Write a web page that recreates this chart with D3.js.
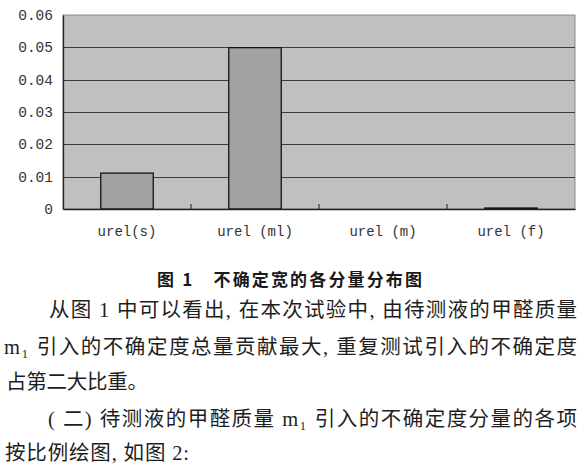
<!DOCTYPE html>
<html>
<head>
<meta charset="utf-8">
<script src="https://cdn.jsdelivr.net/npm/d3@7"></script>
<style>
  body { margin: 0; background: #fff; }
  svg { display: block; }
</style>
</head>
<body>
<script>
var width = 585,
    height = 470;

// chart data
var categories = ["urel(s)", "urel (ml)", "urel (m)", "urel (f)"];
var values = [0.0111, 0.0499, 0.0, 0.0003];
var yTicks = [0, 0.01, 0.02, 0.03, 0.04, 0.05, 0.06];
var tickLabels = ["0", "0.01", "0.02", "0.03", "0.04", "0.05", "0.06"];

// caption and body text under the chart
var caption = "图 1\u3000不确定宽的各分量分布图";
var bodyLines = [
  "从图 1 中可以看出, 在本次试验中, 由待测液的甲醛质量",
  "m\u2081 引入的不确定度总量贡献最大, 重复测试引入的不确定度",
  "占第二大比重。",
  "( 二)  待测液的甲醛质量 m\u2081 引入的不确定度分量的各项",
  "按比例绘图, 如图 2:"
];

var margin = {top: 15, right: 10, bottom: 261, left: 63};
var plotW = width - margin.left - margin.right,
    plotH = height - margin.top - margin.bottom;

var svg = d3.select("body").append("svg")
    .attr("width", width)
    .attr("height", height);

var g = svg.append("g")
    .attr("transform", "translate(" + margin.left + "," + margin.top + ")");

var x = d3.scaleBand()
    .domain(categories)
    .range([0, plotW])
    .padding(0);

var y = d3.scaleLinear()
    .domain([0, 0.06])
    .range([plotH, 0]);

var barW = x.bandwidth() * 0.41;

// plot background
g.append("rect")
    .attr("width", plotW)
    .attr("height", plotH)
    .style("fill", "#c0c0c0")
    .style("stroke", "#8a8a8a");

// gridlines
g.selectAll(".grid")
    .data(yTicks.filter(function(d) { return d > 0 && d < 0.06; }))
    .enter().append("line")
    .attr("class", "grid")
    .attr("x1", 0)
    .attr("x2", plotW)
    .attr("y1", function(d) { return Math.round(y(d)) + 0.5; })
    .attr("y2", function(d) { return Math.round(y(d)) + 0.5; })
    .style("stroke", "#3c3c3c")
    .style("stroke-width", 1);

// bars
g.selectAll(".bar")
    .data(values)
    .enter().append("rect")
    .attr("class", "bar")
    .attr("x", function(d, i) { return x(categories[i]) + (x.bandwidth() - barW) / 2; })
    .attr("y", function(d) { return y(d); })
    .attr("width", barW)
    .attr("height", function(d) { return plotH - y(d); })
    .style("fill", "#a2a2a2")
    .style("stroke", function(d) { return d > 0 ? "#111" : "none"; })
    .style("stroke-width", 1.3);

// y axis
var yAxis = g.append("g")
    .call(d3.axisLeft(y)
      .tickValues(yTicks)
      .tickSize(0)
      .tickPadding(10)
      .tickFormat(function(d, i) { return tickLabels[i]; }));
yAxis.select(".domain").style("stroke", "#222").style("stroke-width", 1.3);
yAxis.selectAll("text")
    .style("font-family", "'Liberation Mono', monospace")
    .style("font-size", "14.5px")
    .style("fill", "#333");

// x axis
var xAxis = g.append("g")
    .attr("transform", "translate(0," + plotH + ")")
    .call(d3.axisBottom(x).tickSize(0).tickPadding(17));
xAxis.select(".domain").style("stroke", "#222").style("stroke-width", 1.5);
xAxis.selectAll("text")
    .style("font-family", "'Liberation Mono', monospace")
    .style("font-size", "14px")
    .style("fill", "#333");

// category boundary ticks (pointing up into the plot)
g.selectAll(".ctick")
    .data(categories.slice(0, -1))
    .enter().append("line")
    .attr("class", "ctick")
    .attr("x1", function(d) { return x(d) + x.bandwidth(); })
    .attr("x2", function(d) { return x(d) + x.bandwidth(); })
    .attr("y1", plotH - 5)
    .attr("y2", plotH)
    .style("stroke", "#222");

// caption
svg.append("text")
    .attr("x", 157)
    .attr("y", 286)
    .attr("textLength", 265)
    .attr("lengthAdjust", "spacing")
    .style("font-family", "'Noto Sans CJK SC', sans-serif")
    .style("font-weight", "bold")
    .style("font-size", "17px")
    .style("fill", "#1a1a1a")
    .text(caption);

// body paragraph
var lineX = [49, 4, 6, 48, 5];
var lineY = [317, 354, 389, 426, 460];
var lineLen = [528, 573, 142, 529, 184];

svg.selectAll(".body")
    .data(bodyLines)
    .enter().append("text")
    .attr("class", "body")
    .attr("x", function(d, i) { return lineX[i]; })
    .attr("y", function(d, i) { return lineY[i]; })
    .attr("textLength", function(d, i) { return lineLen[i]; })
    .attr("lengthAdjust", "spacing")
    .style("font-family", "'Liberation Serif', 'Noto Sans CJK SC', serif")
    .style("font-size", "20.5px")
    .style("fill", "#1e1e1e")
    .text(function(d) { return d; });
</script>
</body>
</html>
